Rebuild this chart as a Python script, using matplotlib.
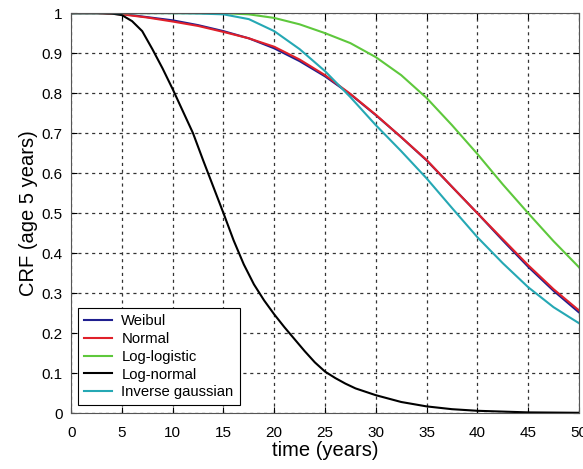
import matplotlib.pyplot as plt

plt.rcParams['font.family'] = ['Liberation Sans', 'DejaVu Sans']

time = [0, 2.5, 5, 7.5, 10, 12.5, 15, 17.5, 20, 22.5, 25,
        27.5, 30, 32.5, 35, 37.5, 40, 42.5, 45, 47.5, 50]

weibul = [1, 1, 0.998, 0.99, 0.982, 0.97, 0.955, 0.937, 0.912, 0.88, 0.842,
          0.797, 0.745, 0.69, 0.632, 0.566, 0.5, 0.432, 0.366, 0.306, 0.252]
normal = [1, 1, 0.997, 0.989, 0.979, 0.968, 0.953, 0.937, 0.916, 0.884, 0.845,
          0.798, 0.746, 0.69, 0.633, 0.566, 0.5, 0.435, 0.37, 0.31, 0.257]
loglogistic = [1, 1, 1, 1, 1, 1, 1, 0.997, 0.988, 0.972, 0.95,
               0.925, 0.89, 0.845, 0.788, 0.72, 0.648, 0.572, 0.5, 0.43, 0.365]
invgauss = [1, 1, 1, 1, 1, 0.999, 0.997, 0.985, 0.955, 0.91, 0.855,
            0.79, 0.72, 0.655, 0.587, 0.513, 0.44, 0.375, 0.315, 0.265, 0.225]

# log-normal drops steeply, so it is read at a finer step
time_ln = [0, 3, 4, 5, 6, 7, 8, 9, 10, 11, 12, 13, 14, 15, 16, 17, 18, 19, 20,
           21, 22, 23, 24, 25, 26, 27, 28, 30, 32.5, 35, 37.5, 40, 45, 50]
lognormal = [1, 1, 0.999, 0.995, 0.98, 0.955, 0.91, 0.862, 0.81, 0.755, 0.7,
             0.632, 0.566, 0.5, 0.432, 0.372, 0.322, 0.282, 0.247, 0.215,
             0.185, 0.155, 0.127, 0.104, 0.088, 0.074, 0.062, 0.045, 0.028,
             0.017, 0.01, 0.006, 0.002, 0.001]

labels = ['Weibul', 'Normal', 'Log-logistic', 'Log-normal', 'Inverse gaussian']
colors = ['#1f1f8f', '#e0202a', '#5ec83c', '#000000', '#25a8b4']
xs = [time, time, time, time_ln, time]
ys = [weibul, normal, loglogistic, lognormal, invgauss]

fig = plt.figure(figsize=(5.83, 4.69), dpi=100)
ax = fig.add_axes([0.122, 0.119, 0.871, 0.853])

for x, y, lab, c in zip(xs, ys, labels, colors):
    ax.plot(x, y, color=c, linewidth=1.5, label=lab)

ax.set_xlim(0, 50)
ax.set_ylim(0, 1)
ax.set_xticks(range(0, 51, 5))
ax.set_yticks([i / 10 for i in range(11)])
ax.set_yticklabels(['0', '0.1', '0.2', '0.3', '0.4', '0.5', '0.6', '0.7', '0.8', '0.9', '1'])
ax.grid(True, color='#333333', linestyle=(0, (2.5, 3)), linewidth=0.9)
ax.tick_params(direction='in', top=True, right=True, labelsize=11, length=4)
ax.tick_params(axis='x', pad=9)
ax.tick_params(axis='y', pad=6)
for s in ax.spines.values():
    s.set_color('#555555')

ax.set_xlabel('time (years)', fontsize=14.5, labelpad=1)
ax.set_ylabel('CRF (age 5 years)', fontsize=14.5, labelpad=3)

leg = ax.legend(loc='lower left', bbox_to_anchor=(0.014, 0.02), borderaxespad=0,
                fancybox=False, edgecolor='black', fontsize=10.7, handlelength=1.9,
                handletextpad=0.6, labelspacing=0.25, framealpha=1, borderpad=0.4)
leg.get_frame().set_linewidth(0.8)

plt.savefig('out.png', dpi=100)
